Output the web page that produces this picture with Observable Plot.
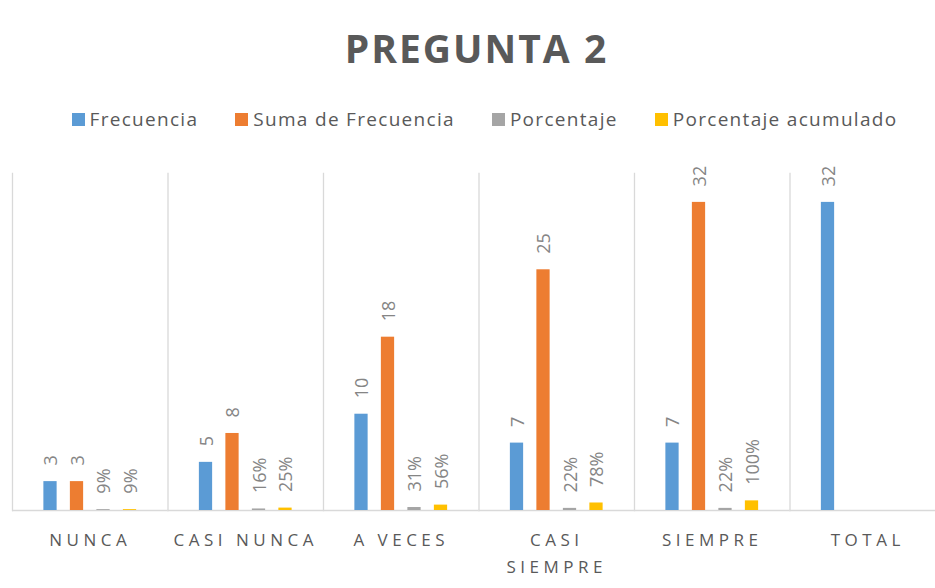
<!DOCTYPE html>
<html><head><meta charset="utf-8">
<script src="https://cdn.jsdelivr.net/npm/d3@7"></script>
<script src="https://cdn.jsdelivr.net/npm/@observablehq/plot@0.6"></script>
<style>
html,body{margin:0;padding:0;background:#fff;overflow:hidden;width:935px;height:588px;position:relative}
#title{position:absolute;top:20px;left:0;width:935px;padding-left:18px;box-sizing:border-box;text-align:center;font-family:"Open Sans";font-weight:bold;font-size:39px;color:#595959;letter-spacing:2px;line-height:56px;white-space:nowrap}
#legend{position:absolute;top:107px;left:0;width:935px;padding-left:34px;box-sizing:border-box;display:flex;justify-content:center;gap:37px;font-family:"Open Sans";font-size:19px;letter-spacing:1.3px;color:#595959;line-height:24px;white-space:nowrap}
#legend .item{display:flex;align-items:center;gap:5px}
#legend .sw{width:13px;height:13px;display:inline-block}
#chart{position:absolute;top:150px;left:0;width:945px}
#chart svg{max-width:none !important}
</style></head>
<body>
<div id="title">PREGUNTA 2</div>
<div id="legend"></div>
<div id="chart"></div>
<script>
const categories = ["NUNCA","CASI NUNCA","A VECES","CASI SIEMPRE","SIEMPRE","TOTAL"];
const categoryLabels = ["NUNCA","CASI NUNCA","A VECES","CASI\nSIEMPRE","SIEMPRE","TOTAL"];
const series = ["Frecuencia","Suma de Frecuencia","Porcentaje","Porcentaje acumulado"];
const frecuencia = [3,5,10,7,7,32];
const sumaFrecuencia = [3,8,18,25,32,null];
const porcentaje = [0.09,0.16,0.31,0.22,0.22,null];
const porcentajeAcumulado = [0.09,0.25,0.56,0.78,1.00,null];
const colors = ["#5B9BD5","#ED7D31","#A5A5A5","#FFC000"];

const seriesValues = [frecuencia, sumaFrecuencia, porcentaje, porcentajeAcumulado];
const rows = [];
categories.forEach((c, i) => {
  seriesValues.forEach((vals, s) => {
    const v = vals[i];
    if (v == null) return;
    rows.push({cat: c, series: series[s], value: v,
      label: s < 2 ? String(v) : Math.round(v * 100) + "%"});
  });
});
const catRows = categories.map((c, i) => ({cat: c, label: categoryLabels[i]}));

const legend = document.getElementById("legend");
series.forEach((s, i) => {
  const it = document.createElement("span");
  it.className = "item";
  it.innerHTML = `<span class="sw" style="background:${colors[i]}"></span><span>${s}</span>`;
  legend.appendChild(it);
});

const chart = Plot.plot({
  width: 945, height: 438,
  marginLeft: 12, marginRight: 0, marginTop: 23, marginBottom: 78,
  style: {fontFamily: "Open Sans", background: "white", maxWidth: "none"},
  fx: {domain: categories, padding: 0, round: false, axis: null, label: null},
  x: {domain: series, paddingInner: 0.5, paddingOuter: 1.184, round: false, axis: null},
  y: {domain: [0, 35], axis: null},
  color: {domain: series, range: colors},
  marks: [
    Plot.frame({anchor: "left", stroke: "#d9d9d9", strokeWidth: 1.3}),
    Plot.ruleY([0], {stroke: "#d9d9d9", strokeWidth: 1.3}),
    Plot.barY(rows, {fx: "cat", x: "series", y: "value", fill: "series"}),
    Plot.text(rows, {fx: "cat", x: "series", y: "value", text: "label", rotate: -90,
      textAnchor: "start", dy: -16, dx: 1, fill: "#858585", fontSize: 18}),
    Plot.text(catRows, {fx: "cat", text: "label", frameAnchor: "bottom", lineAnchor: "top",
      dy: 16, fill: "#595959", fontSize: 17, lineHeight: 1.59})
  ]
});
document.getElementById("chart").appendChild(chart);
const texts = chart.querySelectorAll('g[aria-label="text"]');
if (texts.length) texts[texts.length - 1].style.letterSpacing = "4.5px";
</script>
</body></html>
